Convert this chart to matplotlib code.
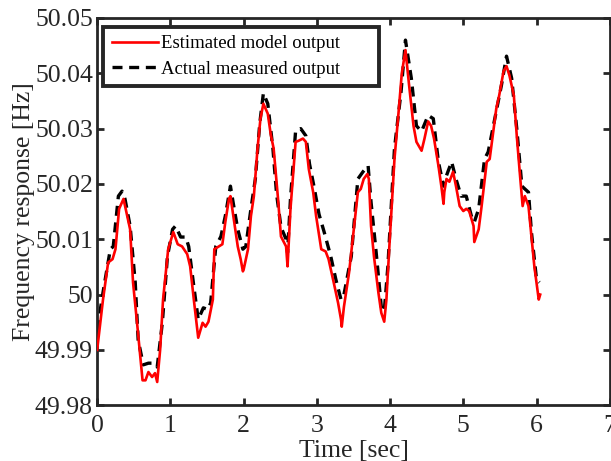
import numpy as np
import matplotlib
matplotlib.use("Agg")
import matplotlib.pyplot as plt
from matplotlib.ticker import FuncFormatter

# ---------------------------------------------------------------------------
# DATA
# ---------------------------------------------------------------------------
t_est = [0.00, 0.08, 0.15, 0.21, 0.25, 0.30, 0.36, 0.41, 0.45, 0.49, 0.55, 0.62, 0.66,
         0.70, 0.75, 0.79, 0.82, 0.86, 0.90, 0.97, 1.04, 1.10, 1.16, 1.23, 1.27, 1.32,
         1.38, 1.44, 1.48, 1.52, 1.58, 1.60, 1.66, 1.71, 1.75, 1.80, 1.82, 1.86, 1.92,
         1.96, 1.99, 2.00, 2.06, 2.10, 2.14, 2.19, 2.23, 2.27, 2.33, 2.37, 2.41, 2.47,
         2.51, 2.58, 2.60, 2.64, 2.71, 2.75, 2.81, 2.85, 2.89, 2.95, 2.99, 3.06, 3.12,
         3.16, 3.23, 3.29, 3.33, 3.34, 3.37, 3.44, 3.49, 3.56, 3.60, 3.64, 3.69, 3.71,
         3.74, 3.78, 3.84, 3.88, 3.92, 3.95, 3.99, 4.06, 4.12, 4.16, 4.21, 4.26, 4.32,
         4.36, 4.43, 4.47, 4.52, 4.56, 4.60, 4.66, 4.70, 4.73, 4.74, 4.77, 4.81, 4.86,
         4.90, 4.95, 5.00, 5.04, 5.08, 5.14, 5.15, 5.21, 5.25, 5.32, 5.36, 5.41, 5.45,
         5.49, 5.55, 5.59, 5.63, 5.69, 5.73, 5.77, 5.81, 5.84, 5.89, 5.93, 5.97, 6.03,
         6.05]
f_est = [49.9900, 49.9991, 50.0058, 50.0064, 50.0082, 50.0155, 50.0173, 50.0142, 50.0118,
         50.0022, 49.9942, 49.9845, 49.9845, 49.9860, 49.9851, 49.9858, 49.9842, 49.9900,
         49.9991, 50.0082, 50.0113, 50.0091, 50.0087, 50.0073, 50.0051, 49.9991, 49.9922,
         49.9949, 49.9942, 49.9951, 49.9991, 50.0082, 50.0087, 50.0091, 50.0131, 50.0173,
         50.0178, 50.0142, 50.0087, 50.0064, 50.0042, 50.0045, 50.0082, 50.0142, 50.0178,
         50.0264, 50.0318, 50.0345, 50.0327, 50.0290, 50.0264, 50.0173, 50.0105, 50.0087,
         50.0051, 50.0155, 50.0276, 50.0278, 50.0282, 50.0276, 50.0227, 50.0185, 50.0142,
         50.0082, 50.0078, 50.0064, 50.0022, 49.9985, 49.9955, 49.9942, 49.9978, 50.0040,
         50.0100, 50.0185, 50.0191, 50.0209, 50.0218, 50.0209, 50.0124, 50.0069, 50.0004,
         49.9967, 49.9951, 49.9991, 50.0087, 50.0245, 50.0336, 50.0400, 50.0442, 50.0378,
         50.0305, 50.0276, 50.0260, 50.0282, 50.0313, 50.0305, 50.0282, 50.0233, 50.0196,
         50.0164, 50.0185, 50.0209, 50.0204, 50.0222, 50.0196, 50.0160, 50.0151, 50.0155,
         50.0151, 50.0124, 50.0095, 50.0118, 50.0160, 50.0240, 50.0245, 50.0295, 50.0336,
         50.0360, 50.0404, 50.0413, 50.0396, 50.0360, 50.0287, 50.0222, 50.0160, 50.0178,
         50.0160, 50.0105, 50.0051, 49.9991, 50.0000]

t_meas = [0.00, 0.08, 0.18, 0.22, 0.29, 0.34, 0.38, 0.45, 0.52, 0.56, 0.63, 0.70, 0.77,
          0.82, 0.89, 0.96, 1.03, 1.07, 1.14, 1.21, 1.25, 1.32, 1.38, 1.45, 1.51, 1.55,
          1.62, 1.69, 1.75, 1.82, 1.86, 1.92, 1.99, 2.03, 2.10, 2.16, 2.22, 2.27, 2.33,
          2.40, 2.45, 2.51, 2.58, 2.60, 2.64, 2.71, 2.78, 2.85, 2.90, 2.96, 3.03, 3.10,
          3.19, 3.26, 3.33, 3.37, 3.47, 3.56, 3.63, 3.70, 3.74, 3.81, 3.88, 3.92, 3.97,
          4.06, 4.15, 4.21, 4.29, 4.36, 4.43, 4.52, 4.59, 4.66, 4.73, 4.77, 4.84, 4.90,
          4.97, 5.04, 5.11, 5.15, 5.21, 5.29, 5.34, 5.43, 5.52, 5.59, 5.66, 5.73, 5.80,
          5.84, 5.89, 5.93, 6.00, 6.04]
f_meas = [49.9936, 50.0004, 50.0082, 50.0087, 50.0178, 50.0187, 50.0173, 50.0124, 50.0022,
          49.9918, 49.9873, 49.9876, 49.9876, 49.9869, 49.9949, 50.0069, 50.0118, 50.0124,
          50.0104, 50.0104, 50.0087, 50.0015, 49.9955, 49.9976, 49.9973, 49.9985, 50.0087,
          50.0105, 50.0142, 50.0196, 50.0164, 50.0118, 50.0082, 50.0087, 50.0155, 50.0209,
          50.0309, 50.0364, 50.0345, 50.0264, 50.0182, 50.0122, 50.0100, 50.0076, 50.0173,
          50.0296, 50.0300, 50.0287, 50.0236, 50.0196, 50.0145, 50.0113, 50.0069, 50.0027,
          49.9991, 50.0000, 50.0069, 50.0209, 50.0222, 50.0233, 50.0167, 50.0076, 49.9978,
          49.9969, 50.0051, 50.0264, 50.0367, 50.0460, 50.0391, 50.0305, 50.0295, 50.0324,
          50.0318, 50.0240, 50.0196, 50.0215, 50.0240, 50.0209, 50.0178, 50.0178, 50.0142,
          50.0131, 50.0155, 50.0245, 50.0258, 50.0318, 50.0378, 50.0431, 50.0391, 50.0300,
          50.0196, 50.0191, 50.0185, 50.0113, 50.0027, 50.0022]

x_ticks = [0, 1, 2, 3, 4, 5, 6, 7]
y_ticks = [49.98, 49.99, 50.00, 50.01, 50.02, 50.03, 50.04, 50.05]

# ---------------------------------------------------------------------------
# PLOT
# ---------------------------------------------------------------------------
plt.rcParams["font.family"] = ["Liberation Serif", "DejaVu Serif"]
dark = "#262626"

fig = plt.figure(figsize=(6.11, 4.61), dpi=100)
ax = fig.add_axes([0.159, 0.121, 0.839, 0.840])

ax.plot(t_meas, f_meas, color="black", lw=2.4, ls=(0, (3.0, 2.0)),
        label="Actual measured output", zorder=2)
ax.plot(t_est, f_est, color="red", lw=1.9, label="Estimated model output", zorder=3)

ax.set_xlim(0, 7)
ax.set_ylim(49.98, 50.05)
ax.set_xticks(x_ticks)
ax.set_yticks(y_ticks)
ax.yaxis.set_major_formatter(FuncFormatter(lambda v, p: f"{v:.2f}".rstrip("0").rstrip(".")))

ax.tick_params(direction="in", length=5, width=2, top=True, right=True,
               labelsize=18.5, colors=dark)
ax.tick_params(axis="x", pad=7)
ax.tick_params(axis="y", pad=3)
for s in ax.spines.values():
    s.set_linewidth(2)
    s.set_color(dark)

ax.set_xlabel("Time [sec]", fontsize=18.5, color=dark, labelpad=2)
ax.set_ylabel("Frequency response [Hz]", fontsize=18.5, color=dark, labelpad=0)

handles, labels = ax.get_legend_handles_labels()
leg = ax.legend(handles[::-1], labels[::-1], loc="upper left",
                bbox_to_anchor=(0.012, 0.977, 0.538, 0.0), mode="expand",
                borderaxespad=0, fontsize=13.5, handlelength=2.45, handletextpad=0.2,
                labelspacing=0.45, borderpad=0.45, fancybox=False, framealpha=1)
leg.get_frame().set_edgecolor(dark)
leg.get_frame().set_linewidth(2.8)

fig.savefig("out.png", dpi=100)
